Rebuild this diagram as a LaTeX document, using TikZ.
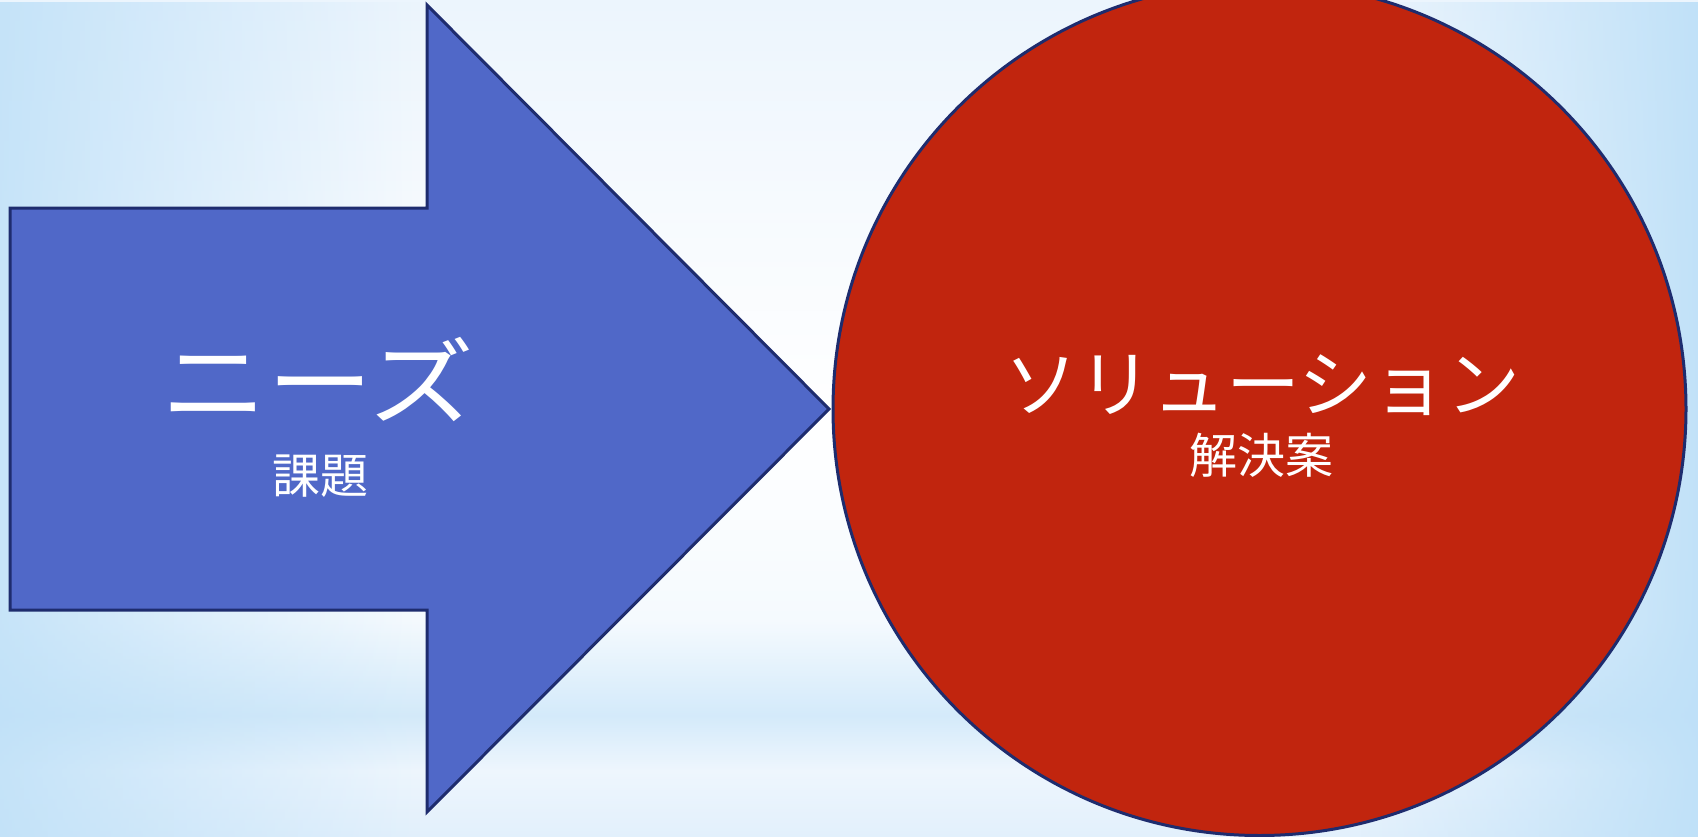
\documentclass[tikz,border=0pt]{standalone}
\usepackage{graphicx}
\usepackage{fontspec}
\newfontfamily\jp{Noto Sans CJK JP}
\usetikzlibrary{fadings}
\definecolor{arrowblue}{RGB}{80,104,200}
\definecolor{edgenavy}{RGB}{30,44,110}
\definecolor{solred}{RGB}{193,37,14}
\definecolor{sky}{RGB}{190,224,248}
\pgfdeclareverticalshading{bgshade}{100bp}{%
  color(0bp)=(rgb,255:red,226;green,240;blue,252);
  color(25bp)=(rgb,255:red,226;green,240;blue,252);
  color(28.9bp)=(rgb,255:red,238;green,246;blue,253);
  color(32.2bp)=(rgb,255:red,212;green,234;blue,250);
  color(33.7bp)=(rgb,255:red,220;green,238;blue,251);
  color(37.9bp)=(rgb,255:red,245;green,250;blue,254);
  color(49.9bp)=(rgb,255:red,255;green,255;blue,255);
  color(63bp)=(rgb,255:red,246;green,250;blue,254);
  color(75bp)=(rgb,255:red,236;green,245;blue,253);
  color(100bp)=(rgb,255:red,236;green,245;blue,253)}
\tikzfading[name=fromleft, left color=transparent!0, right color=transparent!100]
\tikzfading[name=fromright, left color=transparent!100, right color=transparent!0]
\tikzset{
  shapeline/.style={draw=edgenavy, line width=3pt, line join=miter},
  bigtxt/.style={text=white, inner sep=0pt, font=\jp\fontsize{74}{88}\selectfont},
  needstxt/.style={text=white, inner sep=0pt, font=\jp\fontsize{94.5}{110}\selectfont},
  smalltxt/.style={text=white, inner sep=0pt, font=\jp\fontsize{48}{58}\selectfont}
}
\begin{document}
\begin{tikzpicture}[x=1pt,y=-1pt]
\useasboundingbox (0,0) rectangle (1698,836);
\begin{scope}
\clip (0,0) rectangle (1698,836);
% background
\shade[shading=bgshade] (0,0) rectangle (1698,836);
\fill[sky, opacity=0.85, path fading=fromleft] (0,0) rectangle (420,836);
\fill[sky, opacity=0.95, path fading=fromright] (1360,0) rectangle (1698,836);
% arrow
\draw[shapeline, fill=arrowblue] (10,208) -- (427,208) -- (427,5) -- (829,409)
  -- (427,812) -- (427,610) -- (10,610) -- cycle;
% circle
\node[circle, shapeline, fill=solred, minimum size=853pt, inner sep=0pt] (sol) at (1259.5,409) {};
\end{scope}
% texts
\node[needstxt] (needs) at (318,380) {\scalebox{1.12}[1]{ニーズ}};
\node[smalltxt] (kadai) at (320,476) {課題};
\node[bigtxt] (solution) at (1262.5,385) {ソリューション};
\node[smalltxt] (kaiketsu) at (1261,455.5) {解決案};
\end{tikzpicture}
\end{document}
